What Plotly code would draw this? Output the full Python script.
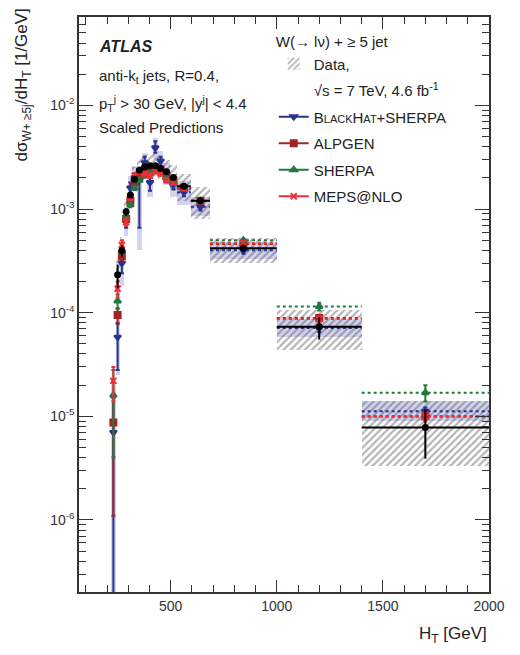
import plotly.graph_objects as go

# ---------------- data ----------------
bin_lo = [220, 240, 260, 280, 300, 320, 340, 365, 390, 415, 440, 465, 495, 530, 595, 685, 1000, 1400]
bin_hi = [240, 260, 280, 300, 320, 340, 365, 390, 415, 440, 465, 495, 530, 595, 685, 1000, 1400, 2000]

data_val = [None, 2.32e-4, 3.98e-4, 9.4e-4, 1.37e-3, 1.94e-3, 2.37e-3, 2.55e-3, 2.61e-3, 2.61e-3,
            2.46e-3, 2.29e-3, 2.02e-3, 1.66e-3, 1.20e-3, 4.19e-4, 7.3e-5, 7.8e-6]
data_stat = [None, 6e-5, 5e-5, 8e-5, 8e-5, 9e-5, 1.0e-4, 1.0e-4, 1.0e-4, 1.0e-4,
             1.0e-4, 9e-5, 8e-5, 7e-5, 6e-5, 3.5e-5, 1.8e-5, 3.9e-6]
syst_lo = [None, 1.5e-4, 2.8e-4, 6.8e-4, 1.0e-3, 1.45e-3, 1.8e-3, 1.95e-3, 2.0e-3, 2.0e-3,
           1.9e-3, 1.75e-3, 1.5e-3, 1.2e-3, 8.1e-4, 3.0e-4, 4.4e-5, 3.3e-6]
syst_hi = [None, 3.2e-4, 5.4e-4, 1.25e-3, 1.8e-3, 2.55e-3, 3.1e-3, 3.3e-3, 3.4e-3, 3.4e-3,
           3.2e-3, 3.0e-3, 2.65e-3, 2.2e-3, 1.64e-3, 5.2e-4, 1.07e-4, 1.4e-5]

bh_val = [7e-6, 5.8e-5, 3.0e-4, 7.8e-4, 1.6e-3, 2.0e-3, 1.9e-3, 2.8e-3, 1.8e-3, 3.9e-3,
          2.9e-3, 2.2e-3, 1.7e-3, 1.45e-3, 1.05e-3, 4.0e-4, 7.1e-5, 1.12e-5]
bh_err_up = [8e-6, 2e-5, 5e-5, 1e-4, 2e-4, 2e-4, 2e-4, 4e-4, 3e-4, 6e-4,
             3e-4, 2e-4, 1.5e-4, 1.2e-4, 8e-5, 3e-5, 6e-6, 1e-6]
bh_err_dn = [6.95e-6, 3e-5, 6e-5, 1.2e-4, 2e-4, 2e-4, 1.24e-3, 4e-4, 3e-4, 4e-4,
             3e-4, 2e-4, 1.5e-4, 1.2e-4, 8e-5, 3e-5, 6e-6, 1e-6]
bh_band_lo = [1e-7, 2.5e-5, 1.8e-4, 5.5e-4, 1.15e-3, 1.5e-3, 4.0e-4, 2.1e-3, 1.3e-3, 3.0e-3,
              2.2e-3, 1.7e-3, 1.3e-3, 1.1e-3, 8.5e-4, 3.3e-4, 5.8e-5, 9.0e-6]
bh_band_hi = [2.0e-5, 9e-5, 4.2e-4, 1.05e-3, 2.1e-3, 2.6e-3, 2.6e-3, 3.5e-3, 2.4e-3, 4.8e-3,
              3.6e-3, 2.8e-3, 2.2e-3, 1.85e-3, 1.3e-3, 4.8e-4, 8.6e-5, 1.4e-5]

alp_val = [8.7e-6, 9.5e-5, 3.5e-4, 8.0e-4, 1.2e-3, 1.8e-3, 2.1e-3, 2.3e-3, 2.4e-3, 2.5e-3,
           2.4e-3, 2.1e-3, 1.9e-3, 1.6e-3, 1.2e-3, 4.6e-4, 8.9e-5, 1.0e-5]
alp_err = [7.6e-6, 1.5e-5, 3e-5, 5e-5, 6e-5, 7e-5, 8e-5, 8e-5, 8e-5, 8e-5,
           8e-5, 7e-5, 6e-5, 5e-5, 4e-5, 1.5e-5, 4e-6, 8e-7]

sh_val = [1.6e-5, 1.3e-4, 4.0e-4, 8.5e-4, 1.1e-3, 1.6e-3, 1.9e-3, 2.1e-3, 2.2e-3, 2.4e-3,
          2.3e-3, 2.0e-3, 1.8e-3, 1.55e-3, 1.2e-3, 5.0e-4, 1.15e-4, 1.69e-5]
sh_err = [1.2e-5, 2e-5, 4e-5, 6e-5, 6e-5, 7e-5, 8e-5, 8e-5, 8e-5, 8e-5,
          8e-5, 7e-5, 6e-5, 5e-5, 4e-5, 1.5e-5, 1e-5, 3e-6]

me_val = [2.2e-5, 1.7e-4, 4.5e-4, 7.5e-4, 1.3e-3, 2.1e-3, 2.3e-3, 2.2e-3, 2.1e-3, 2.3e-3,
          2.2e-3, 1.9e-3, 1.8e-3, 1.6e-3, 1.2e-3, 4.68e-4, 8.7e-5, 9.9e-6]
me_err = [8e-6, 3e-5, 5e-5, 6e-5, 8e-5, 1e-4, 1e-4, 1e-4, 1e-4, 1e-4,
          1e-4, 9e-5, 8e-5, 7e-5, 5e-5, 2e-5, 5e-6, 1e-6]

y_tick_vals = [1e-6, 1e-5, 1e-4, 1e-3, 1e-2]
y_tick_text = ["10<sup>-6</sup>", "10<sup>-5</sup>", "10<sup>-4</sup>", "10<sup>-3</sup>", "10<sup>-2</sup>"]
x_tick_vals = [500, 1000, 1500, 2000]

# ---------------- derived ----------------
centers = [(a + b) / 2 for a, b in zip(bin_lo, bin_hi)]
widths = [b - a for a, b in zip(bin_lo, bin_hi)]
halfw = [w / 2 for w in widths]

FONT = "Liberation Sans, Arial, Helvetica, sans-serif"
C_BH = "rgb(40,50,145)"
C_ALP = "rgb(165,35,35)"
C_SH = "rgb(35,120,65)"
C_ME = "rgb(240,45,55)"
HATCH = dict(shape="/", fgcolor="rgba(85,85,85,0.9)", bgcolor="rgba(0,0,0,0)",
             size=5, solidity=0.42, fillmode="overlay")


def steps(vals):
    xs, ys = [], []
    for a, b, v in zip(bin_lo, bin_hi, vals):
        xs += [a, b, None]
        ys += [v, v, None]
    return xs, ys


fig = go.Figure()

# BlackHat+Sherpa uncertainty band
fig.add_trace(go.Bar(
    x=centers, width=widths, base=bh_band_lo,
    y=[h - l for h, l in zip(bh_band_hi, bh_band_lo)],
    marker=dict(color="rgba(130,130,215,0.35)", line=dict(width=0)),
    showlegend=False, hoverinfo="skip"))

# data systematic (hatched)
fig.add_trace(go.Bar(
    x=centers, width=widths, base=syst_lo,
    y=[(h - l) if h is not None else None for h, l in zip(syst_hi, syst_lo)],
    marker=dict(color="rgba(0,0,0,0)", line=dict(width=0), pattern=HATCH),
    name="Data,", legendrank=1, legendgroup="d",
    hoverinfo="skip"))

# second line of the data legend entry (no symbol)
fig.add_trace(go.Scatter(
    x=[None], y=[None], mode="lines", name="√s = 7 TeV, 4.6 fb<sup>-1</sup>",
    line=dict(color="rgba(0,0,0,0)", width=0), legendgroup="e", legendrank=2))

# prediction step lines
for vals, col in [(sh_val, C_SH), (alp_val, C_ALP), (me_val, C_ME), (bh_val, C_BH)]:
    xs, ys = steps(vals)
    fig.add_trace(go.Scatter(x=xs, y=ys, mode="lines",
                             line=dict(color=col, width=2, dash="dot"),
                             showlegend=False, hoverinfo="skip"))

# prediction markers + error bars
preds = [
    ("B<span style='font-size:11px'>LACK</span>H<span style='font-size:11px'>AT</span>+SHERPA",
     bh_val, bh_err_up, bh_err_dn, C_BH, "triangle-down", "b", 3),
    ("ALPGEN", alp_val, alp_err, alp_err, C_ALP, "square", "a", 4),
    ("SHERPA", sh_val, sh_err, sh_err, C_SH, "triangle-up", "s", 5),
    ("MEPS@NLO", me_val, me_err, me_err, C_ME, "x-thin-open", "m", 6),
]
for name, vals, eu, ed, col, sym, grp, rank in preds:
    fig.add_trace(go.Scatter(
        x=centers, y=vals, mode="markers",
        marker=dict(color=col, symbol=sym, size=6, line=dict(color=col, width=2)),
        error_y=dict(type="data", symmetric=False, array=eu, arrayminus=ed,
                     color=col, thickness=2, width=2),
        showlegend=False, legendgroup=grp, hoverinfo="skip"))
    # legend entry (line + marker)
    fig.add_trace(go.Scatter(
        x=[None], y=[None], mode="lines+markers", name=name,
        marker=dict(color=col, symbol=sym, size=6, line=dict(color=col, width=2)),
        line=dict(color=col, width=2), legendgroup=grp, legendrank=rank))

# data points
fig.add_trace(go.Scatter(
    x=centers, y=data_val, mode="markers",
    marker=dict(color="black", size=7),
    error_y=dict(type="data", array=data_stat, color="black", thickness=2, width=0),
    error_x=dict(type="data", array=halfw, color="black", thickness=2, width=0),
    showlegend=False, hoverinfo="skip"))

# ---------------- layout ----------------
axis_common = dict(showline=True, linecolor="#333", linewidth=1.5, mirror="allticks",
                   ticks="inside", tickcolor="#333", showgrid=False, zeroline=False,
                   tickfont=dict(family=FONT, size=14, color="#333"))

# page body has an 8px margin: figure is 504x639 so that the plot area sits at
# x 79..496, y 15..592 in the 520x655 window
fig.update_layout(
    width=504, height=639,
    margin=dict(l=71, r=16, t=7, b=55),
    paper_bgcolor="white", plot_bgcolor="white",
    barmode="overlay", bargap=0,
    font=dict(family=FONT, size=15, color="#222"),
    xaxis=dict(range=[68, 2000], tickvals=x_tick_vals, ticklen=12,
               minor=dict(dtick=100, tick0=0, ticks="inside", ticklen=7, tickcolor="#333"),
               **axis_common),
    yaxis=dict(type="log", range=[-6.695, -1.147], tickvals=y_tick_vals, ticktext=y_tick_text,
               ticklen=14,
               minor=dict(dtick="D1", ticks="inside", ticklen=7, tickcolor="#333"),
               **axis_common),
    legend=dict(x=0.475, xanchor="left", y=0.981, yanchor="top",
                bgcolor="rgba(0,0,0,0)", borderwidth=0,
                font=dict(family=FONT, size=15, color="#222"),
                title=dict(text="W(→ lν) + ≥ 5 jet", font=dict(family=FONT, size=15, color="#222")),
                traceorder="grouped", tracegroupgap=4, valign="middle", itemwidth=30),
    showlegend=True,
)

ann = [
    dict(text="<b><i>ATLAS</i></b>", x=97, y=45, size=16),
    dict(text="anti-k<sub>t</sub> jets, R=0.4,", x=97, y=75, size=15),
    dict(text="p<sub>T</sub><sup>j</sup> > 30 GeV, |y<sup>j</sup>| < 4.4", x=97, y=102, size=15),
    dict(text="Scaled Predictions", x=97, y=126, size=15),
]
for a in ann:
    fig.add_annotation(text=a["text"], xref="paper", yref="paper",
                       x=(a["x"] - 79) / 417, y=1 - (a["y"] - 15) / 577,
                       xanchor="left", yanchor="middle", showarrow=False,
                       font=dict(family=FONT, size=a["size"], color="#222"))

fig.add_annotation(text="dσ<sub>W+ ≥5j</sub>/dH<sub>T</sub> [1/GeV]", xref="paper", yref="paper",
                   x=(22 - 79) / 417, y=1 + (15 - 4) / 577, xanchor="center", yanchor="top",
                   textangle=-90, showarrow=False, font=dict(family=FONT, size=17, color="#222"))
fig.add_annotation(text="H<sub>T</sub> [GeV]", xref="paper", yref="paper",
                   x=1, y=-(635 - 592) / 577, xanchor="right", yanchor="middle",
                   showarrow=False, font=dict(family=FONT, size=17, color="#222"))

fig.write_html("out.html")
